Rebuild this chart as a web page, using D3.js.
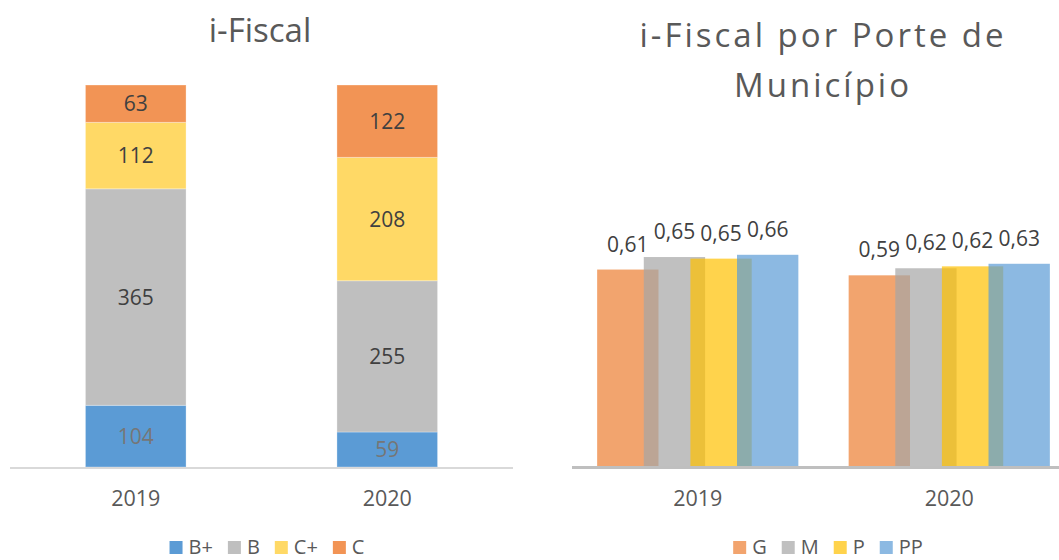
<!DOCTYPE html>
<html>
<head>
<meta charset="utf-8">
<script src="https://cdn.jsdelivr.net/npm/d3@7"></script>
<style>
  body { margin: 0; background: #fff; }
  svg { display: block; font-family: "Open Sans", sans-serif; }
</style>
</head>
<body>
<svg id="chart" width="1059" height="560"></svg>
<script>
// left chart: i-Fiscal, number of municipalities per grade
const years = ["2019", "2020"];
const grades = ["B+", "B", "C+", "C"];
const gradeBplus = [104, 59];
const gradeB = [365, 255];
const gradeCplus = [112, 208];
const gradeC = [63, 122];

// right chart: i-Fiscal average by size of municipality
const sizes = ["G", "M", "P", "PP"];
const sizeG = [0.612, 0.594];
const sizeM = [0.651, 0.616];
const sizeP = [0.646, 0.622];
const sizePP = [0.658, 0.630];

const svg = d3.select("#chart");
const textColor = "#595959";

// ---------- left: stacked bars ----------
const gradeColor = d3.scaleOrdinal()
  .domain(grades)
  .range(["#5b9bd5", "#bfbfbf", "#ffd966", "#f29455"]);

const gradeRows = years.map((y, i) => ({
  year: y,
  "B+": gradeBplus[i],
  "B": gradeB[i],
  "C+": gradeCplus[i],
  "C": gradeC[i]
}));

const series = d3.stack().keys(grades)(gradeRows);
const total = d3.max(gradeRows, d => d3.sum(grades, k => d[k]));

const xL = d3.scaleBand().domain(years).range([10, 513]).paddingInner(0.6).paddingOuter(0.3);
const yL = d3.scaleLinear().domain([0, total]).range([467, 85]);

const left = svg.append("g");

left.append("text")
  .attr("x", 260).attr("y", 42)
  .attr("text-anchor", "middle")
  .style("font-size", "33px")
  .attr("fill", textColor)
  .text("i-Fiscal");

const layers = left.selectAll("g.layer")
  .data(series)
  .join("g")
  .attr("class", "layer")
  .attr("fill", d => gradeColor(d.key));

layers.selectAll("rect")
  .data(d => d)
  .join("rect")
  .attr("x", d => xL(d.data.year))
  .attr("width", xL.bandwidth())
  .attr("y", d => yL(d[1]))
  .attr("height", d => yL(d[0]) - yL(d[1]))
  .attr("stroke", "#fff")
  .attr("stroke-opacity", 0.3);

layers.selectAll("text")
  .data(d => d.map(v => Object.assign({ key: d.key }, v)))
  .join("text")
  .attr("x", d => xL(d.data.year) + xL.bandwidth() / 2)
  .attr("y", d => (yL(d[0]) + yL(d[1])) / 2)
  .attr("dy", "0.36em")
  .attr("text-anchor", "middle")
  .style("font-size", "21px")
  .attr("fill", d => d.key === "B+" ? "#767676" : "#404040")
  .text(d => d[1] - d[0]);

const axisL = left.append("g")
  .attr("transform", "translate(0,467)")
  .call(d3.axisBottom(xL).tickSize(0).tickSizeOuter(0));
axisL.select(".domain").attr("stroke", "#d9d9d9").attr("stroke-width", 2).attr("d", "M10,1H513");
axisL.selectAll("text").style("font-size", "21.5px").attr("fill", textColor)
  .attr("font-family", "Open Sans").attr("dy", 0).attr("y", 39);

drawLegend(left, grades, gradeColor, 267);

// ---------- right: overlapping grouped bars ----------
const sizeColor = d3.scaleOrdinal()
  .domain(sizes)
  .range(["#ed7d31", "#a5a5a5", "#ffc000", "#5b9bd5"]);

const sizeValues = [sizeG, sizeM, sizeP, sizePP];
const overlap = 0.24;

const x0 = d3.scaleBand().domain(years).range([572, 1075]).paddingInner(0.2).paddingOuter(0.1);
const barW = x0.bandwidth() / (1 + (sizes.length - 1) * (1 - overlap));
const barStep = barW * (1 - overlap);
const yR = d3.scaleLinear().domain([0, 0.7]).range([466, 466 - 0.7 * 321]);
const fmt = v => d3.format(".2f")(v).replace(".", ",");

const right = svg.append("g");

right.append("text")
  .attr("x", 822)
  .attr("text-anchor", "middle")
  .style("font-size", "33px")
  .style("letter-spacing", "3px")
  .attr("fill", textColor)
  .selectAll("tspan")
  .data(["i-Fiscal por Porte de", "Município"])
  .join("tspan")
  .attr("x", 823)
  .attr("y", (d, i) => 47 + i * 50)
  .text(d => d);

const groups = right.selectAll("g.size")
  .data(sizes.map((s, j) => ({ key: s, j, values: sizeValues[j] })))
  .join("g")
  .attr("class", "size");

groups.selectAll("rect")
  .data(d => years.map((y, i) => ({ key: d.key, j: d.j, year: y, value: d.values[i] })))
  .join("rect")
  .attr("x", d => x0(d.year) + d.j * barStep)
  .attr("width", barW)
  .attr("y", d => yR(d.value))
  .attr("height", d => yR(0) - yR(d.value))
  .attr("fill", d => sizeColor(d.key))
  .attr("fill-opacity", 0.7);

groups.selectAll("text")
  .data(d => years.map((y, i) => ({ key: d.key, j: d.j, year: y, value: d.values[i] })))
  .join("text")
  .attr("x", d => x0(d.year) + d.j * barStep + barW / 2)
  .attr("y", d => yR(d.value) - 18)
  .attr("text-anchor", "middle")
  .style("font-size", "21px")
  .attr("fill", "#404040")
  .text(d => fmt(d.value));

const axisR = right.append("g")
  .attr("transform", "translate(0,466)")
  .call(d3.axisBottom(x0).tickSize(0).tickSizeOuter(0));
axisR.select(".domain").attr("stroke", "#bfbfbf").attr("stroke-width", 3).attr("d", "M572,1.5H1075");
axisR.selectAll("text").style("font-size", "21.5px").attr("fill", textColor)
  .attr("font-family", "Open Sans").attr("dy", 0).attr("y", 40);

drawLegend(right, sizes, sizeColor, 828, 0.7);

function drawLegend(g, keys, color, cx, opacity = 1) {
  const lg = g.append("g");
  const items = lg.selectAll("g")
    .data(keys)
    .join("g");
  items.append("rect")
    .attr("width", 13).attr("height", 13)
    .attr("y", 541)
    .attr("fill", d => color(d))
    .attr("fill-opacity", opacity);
  items.append("text")
    .attr("x", 19).attr("y", 554)
    .style("font-size", "20px")
    .attr("fill", textColor)
    .text(d => d);
  let pos = 0;
  items.each(function () {
    const w = 19 + this.querySelector("text").getComputedTextLength();
    d3.select(this).attr("transform", `translate(${pos},0)`);
    pos += w + 15;
  });
  const totalW = pos - 15;
  lg.attr("transform", `translate(${cx - totalW / 2},0)`);
}
</script>
</body>
</html>
